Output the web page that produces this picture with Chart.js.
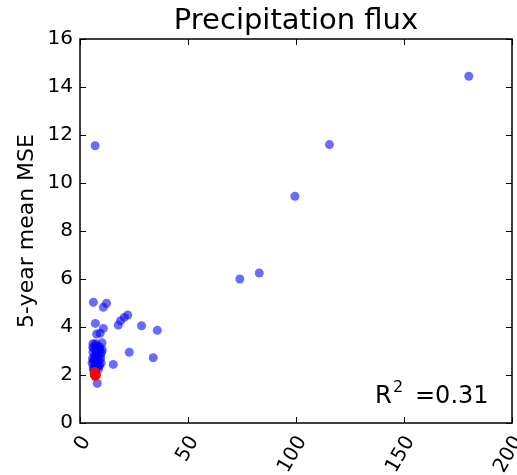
<!DOCTYPE html>
<html>
<head>
<meta charset="utf-8">
<script src="https://cdn.jsdelivr.net/npm/chart.js@4.4.1/dist/chart.umd.min.js"></script>
<style>
  body { margin: 0; background: #fff; }
</style>
</head>
<body>
<canvas id="mse-chart" width="517" height="475"></canvas>
<script>
// values
let blueX = [180, 115.5, 99.5, 83, 74, 7,
  35.8, 28.5, 33.9, 22.8, 15.4,
  6.2, 12.3, 10.8, 22.1, 20.5, 18.8, 17.7,
  7.1, 10.8, 9.3, 7.7, 10.2, 8,
  6, 7, 8.5, 6.5, 9, 7.5, 6, 8, 9.5, 6.8, 7.8, 5.8, 8.8, 7.2, 6.2, 9.8, 8.2, 6.8,
  7.5, 6.1, 8.6, 7, 9.2, 10, 5.6, 6.6, 8.1, 7.4, 9.6, 6.3, 7.9, 5.9, 10.3, 8.4, 7.3, 9.1];
let blueY = [14.45, 11.6, 9.45, 6.25, 6.0, 11.55,
  3.86, 4.05, 2.72, 2.95, 2.44,
  5.03, 4.99, 4.82, 4.5, 4.4, 4.26, 4.08,
  4.15, 3.94, 3.74, 3.71, 3.34, 1.65,
  3.3, 3.25, 3.2, 3.1, 3.05, 3.0, 2.95, 2.9, 2.85, 2.8, 2.75, 2.7, 2.65, 2.6, 2.55, 2.5, 2.45, 2.4,
  2.35, 2.3, 2.25, 2.2, 3.15, 2.95, 2.5, 2.65, 3.1, 2.85, 2.7, 2.2, 2.55, 3.15, 3.05, 2.35, 3.3, 2.4];
let redX = [6.8, 7.3, 6.6, 7.6, 7];
let redY = [2.15, 2.1, 2.02, 2.0, 1.95];

let xTicks = [0, 50, 100, 150, 200];
let yTicks = [0, 2, 4, 6, 8, 10, 12, 14, 16];
let r2 = '0.31';

function toPoints(xs, ys) {
  return xs.map((x, i) => ({x: x, y: ys[i]}));
}

// frame, inward ticks on all four sides, and the R^2 note
const frameTicks = {
  id: 'frameTicks',
  afterDraw(chart) {
    const ctx = chart.ctx;
    const a = chart.chartArea;
    const sx = chart.scales.x, sy = chart.scales.y;
    ctx.save();
    ctx.strokeStyle = '#000';
    ctx.lineWidth = 1.5;
    ctx.strokeRect(a.left, a.top, a.right - a.left, a.bottom - a.top);
    ctx.lineWidth = 1;
    ctx.beginPath();
    xTicks.forEach(v => {
      const px = Math.round(sx.getPixelForValue(v)) + 0.5;
      ctx.moveTo(px, a.bottom); ctx.lineTo(px, a.bottom - 6);
      ctx.moveTo(px, a.top); ctx.lineTo(px, a.top + 6);
    });
    yTicks.forEach(v => {
      const py = Math.round(sy.getPixelForValue(v)) + 0.5;
      ctx.moveTo(a.left, py); ctx.lineTo(a.left + 6, py);
      ctx.moveTo(a.right, py); ctx.lineTo(a.right - 6, py);
    });
    ctx.stroke();

    ctx.fillStyle = '#000';
    ctx.textBaseline = 'alphabetic';
    ctx.textAlign = 'left';
    const bx = a.right - 137, by = a.bottom - 20;
    ctx.font = '24px "DejaVu Sans"';
    ctx.fillText('R', bx, by);
    ctx.font = '16px "DejaVu Sans"';
    ctx.fillText('2', bx + 18, by - 11);
    ctx.font = '24px "DejaVu Sans"';
    ctx.fillText('=' + r2, bx + 40, by);
    ctx.restore();
  }
};

const config = {
  type: 'scatter',
  data: {
    datasets: [{
      label: 'red',
      data: toPoints(redX, redY),
      backgroundColor: 'rgb(255, 0, 0)',
      borderWidth: 0,
      pointRadius: 4.5
    }, {
      label: 'blue',
      data: toPoints(blueX, blueY),
      backgroundColor: 'rgba(0, 0, 255, 0.58)',
      borderWidth: 0,
      pointRadius: 4.5
    }]
  },
  options: {
    responsive: false,
    animation: false,
    devicePixelRatio: 1,
    layout: { padding: 0 },
    plugins: {
      legend: { display: false },
      tooltip: { enabled: false },
      title: {
        display: true,
        fullSize: false,
        text: 'Precipitation flux',
        color: '#000',
        font: { family: 'DejaVu Sans', size: 29, weight: 'normal' },
        padding: { top: 4, bottom: 0.2 }
      }
    },
    scales: {
      x: {
        type: 'linear',
        min: 0,
        max: 200,
        grid: { display: false, drawTicks: false },
        border: { display: false },
        afterBuildTicks: (s) => { s.ticks = xTicks.map(v => ({value: v})); },
        afterFit: (s) => { s.height = 52; s.paddingRight = 5; s.paddingLeft = 0; },
        ticks: {
          color: '#000',
          font: { family: 'DejaVu Sans', size: 20 },
          minRotation: 60,
          maxRotation: 60,
          padding: 9,
          labelOffset: 6
        }
      },
      y: {
        type: 'linear',
        min: 0,
        max: 16,
        grid: { display: false, drawTicks: false },
        border: { display: false },
        afterBuildTicks: (s) => { s.ticks = yTicks.map(v => ({value: v})); },
        afterFit: (s) => { s.width = 80; },
        title: {
          display: true,
          text: '5-year mean MSE',
          color: '#000',
          font: { family: 'DejaVu Sans', size: 22 },
          padding: { top: 14, bottom: 0 }
        },
        ticks: {
          color: '#000',
          font: { family: 'DejaVu Sans', size: 20 },
          padding: 7
        }
      }
    }
  },
  plugins: [frameTicks]
};

const myChart = new Chart(document.getElementById('mse-chart'), config);
</script>
</body>
</html>
